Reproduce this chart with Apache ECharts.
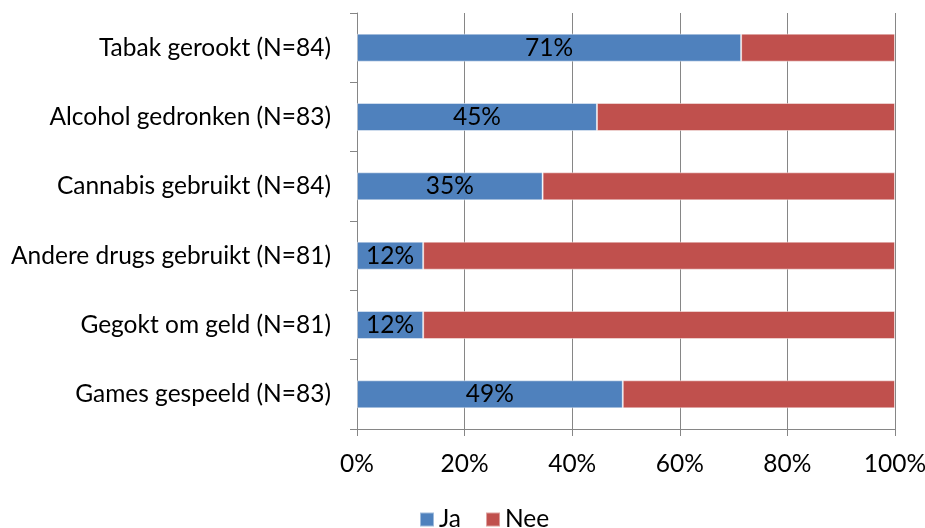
<!DOCTYPE html>
<html>
<head>
<meta charset="utf-8">
<script src="https://cdn.jsdelivr.net/npm/echarts@6/dist/echarts.min.js"></script>
<style>
  html, body { margin: 0; padding: 0; background: #fff; }
  #chart { width: 925px; height: 528px; }
</style>
</head>
<body>
<div id="chart"></div>
<script>
// Share of respondents (percent) per behaviour
const categories = [
  'Tabak gerookt (N=84)',
  'Alcohol gedronken (N=83)',
  'Cannabis gebruikt (N=84)',
  'Andere drugs gebruikt (N=81)',
  'Gegokt om geld (N=81)',
  'Games gespeeld (N=83)'
];
const jaValues = [71.4, 44.6, 34.5, 12.3, 12.3, 49.4];
const neeValues = [28.6, 55.4, 65.5, 87.7, 87.7, 50.6];
const xTicks = [0, 20, 40, 60, 80, 100];

const font = 'Lato, "Open Sans", sans-serif';
const fontSize = 24.5;
const axisGray = '#868686';

const chart = echarts.init(document.getElementById('chart'), null, { renderer: 'canvas' });
chart.setOption({
  animation: false,
  textStyle: { fontFamily: font },
  grid: {
    left: 357, right: 30, top: 13, bottom: 99,
    containLabel: false,
    outerBoundsMode: 'none'
  },
  legend: {
    bottom: -9,
    left: 414,
    itemWidth: 14,
    itemHeight: 14,
    itemGap: 24,
    icon: 'rect',
    textStyle: { fontSize: fontSize, color: '#000', fontFamily: font },
    data: ['Ja', 'Nee']
  },
  xAxis: {
    type: 'value',
    min: xTicks[0],
    max: xTicks[xTicks.length - 1],
    interval: 20,
    axisLine: { show: true, lineStyle: { color: axisGray, width: 1 } },
    axisTick: { show: true, length: 7, lineStyle: { color: axisGray } },
    splitLine: { show: true, lineStyle: { color: axisGray, width: 1 } },
    axisLabel: {
      formatter: '{value}%',
      fontSize: fontSize,
      color: '#000',
      margin: 23,
      fontFamily: font
    }
  },
  yAxis: {
    type: 'category',
    data: categories,
    inverse: true,
    axisLine: { show: true, lineStyle: { color: axisGray, width: 1 } },
    axisTick: { show: true, length: 7, lineStyle: { color: axisGray } },
    axisLabel: { fontSize: fontSize, color: '#000', margin: 26, fontFamily: font }
  },
  series: [
    {
      name: 'Ja',
      type: 'bar',
      stack: 'total',
      data: jaValues,
      barWidth: 28,
      itemStyle: { color: '#4F81BD', borderColor: 'rgba(255,255,255,0.45)', borderWidth: 1 },
      label: {
        show: true,
        position: 'inside',
        color: '#000',
        fontSize: fontSize,
        fontFamily: font,
        formatter: p => Math.round(p.value) + '%'
      }
    },
    {
      name: 'Nee',
      type: 'bar',
      stack: 'total',
      data: neeValues,
      barWidth: 28,
      itemStyle: { color: '#C0504D', borderColor: 'rgba(255,255,255,0.45)', borderWidth: 1 }
    }
  ]
});
</script>
</body>
</html>
